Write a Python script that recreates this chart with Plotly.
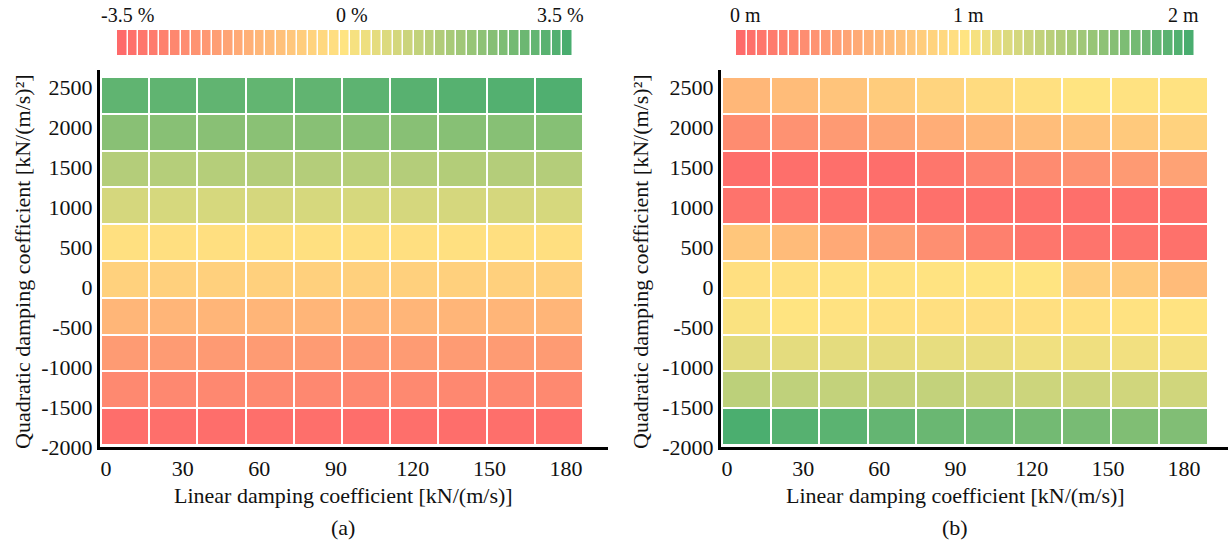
import plotly.graph_objects as go

W, H = 1228, 548

# ---------------- data ----------------
linear_damping = [0, 20, 40, 60, 80, 100, 120, 140, 160, 180]          # column centres
quad_damping = [-2000, -1500, -1000, -500, 0, 500, 1000, 1500, 2000, 2500]  # rows (bottom->top)

x_tick_vals = [0, 30, 60, 90, 120, 150, 180]
x_tick_text = ["0", "30", "60", "90", "120", "150", "180"]
y_tick_vals = [-2000, -1500, -1000, -500, 0, 500, 1000, 1500, 2000, 2500]
y_tick_text = ["-2000", "-1500", "-1000", "-500", "0", "500", "1000", "1500", "2000", "2500"]

# (a) change in % (rows bottom -> top)
z_a = [
    [-3.38, -3.36, -3.38, -3.37, -3.36, -3.38, -3.37, -3.38, -3.36, -3.35],
    [-2.62, -2.64, -2.63, -2.62, -2.64, -2.63, -2.62, -2.63, -2.64, -2.62],
    [-2.08, -2.10, -2.12, -2.10, -2.08, -2.11, -2.10, -2.09, -2.10, -2.08],
    [-1.33, -1.35, -1.36, -1.34, -1.35, -1.36, -1.34, -1.35, -1.36, -1.34],
    [-0.55, -0.57, -0.58, -0.56, -0.57, -0.58, -0.57, -0.56, -0.57, -0.58],
    [-0.12, -0.13, -0.14, -0.13, -0.12, -0.14, -0.13, -0.12, -0.13, -0.14],
    [0.80, 0.79, 0.78, 0.80, 0.79, 0.78, 0.80, 0.81, 0.80, 0.79],
    [1.44, 1.42, 1.43, 1.45, 1.44, 1.43, 1.45, 1.46, 1.44, 1.45],
    [2.26, 2.28, 2.27, 2.25, 2.28, 2.30, 2.29, 2.31, 2.30, 2.32],
    [3.05, 3.06, 3.04, 3.02, 3.03, 3.12, 3.22, 3.25, 3.30, 3.36],
]

# (b) value in m (rows bottom -> top)
z_b = [
    [1.99, 1.93, 1.90, 1.85, 1.82, 1.80, 1.77, 1.74, 1.70, 1.69],
    [1.37, 1.35, 1.33, 1.32, 1.33, 1.29, 1.28, 1.27, 1.26, 1.26],
    [1.16, 1.15, 1.15, 1.14, 1.13, 1.12, 1.08, 1.09, 1.07, 1.05],
    [1.03, 1.00, 0.98, 0.97, 0.96, 0.95, 0.96, 0.97, 0.98, 0.99],
    [0.96, 0.97, 0.98, 0.98, 0.99, 1.00, 1.00, 0.82, 0.78, 0.66],
    [0.75, 0.66, 0.52, 0.43, 0.30, 0.18, 0.10, 0.08, 0.08, 0.06],
    [0.07, 0.07, 0.06, 0.06, 0.05, 0.05, 0.05, 0.04, 0.05, 0.05],
    [0.03, 0.04, 0.04, 0.03, 0.10, 0.20, 0.27, 0.33, 0.39, 0.46],
    [0.28, 0.33, 0.39, 0.48, 0.55, 0.62, 0.68, 0.72, 0.78, 0.85],
    [0.63, 0.67, 0.74, 0.80, 0.87, 0.93, 0.97, 1.00, 0.98, 0.98],
]

# legend strips (43 segments each)
n_seg = 43
strip_a = [-3.5 + 7.0 * i / (n_seg - 1) for i in range(n_seg)]
strip_b = [0.0 + 2.0 * i / (n_seg - 1) for i in range(n_seg)]

strip_a_labels = ["-3.5 %", "0 %", "3.5 %"]
strip_b_labels = ["0 m", "1 m", "2 m"]

colorscale = [[0.0, "#FE6A6A"], [0.5, "#FFE481"], [1.0, "#49AD6F"]]

FONT = "Liberation Serif"


def px_x(p):
    return p / W


def px_y(p):
    return 1 - p / H


fig = go.Figure()

# heatmaps
fig.add_trace(go.Heatmap(x=linear_damping, y=quad_damping, z=z_a, zmin=-3.5, zmax=3.5,
                         colorscale=colorscale, showscale=False, xgap=2, ygap=2,
                         xaxis="x", yaxis="y", hoverinfo="skip"))
fig.add_trace(go.Heatmap(x=linear_damping, y=quad_damping, z=z_b, zmin=0, zmax=2,
                         colorscale=colorscale, showscale=False, xgap=2, ygap=2,
                         xaxis="x3", yaxis="y3", hoverinfo="skip"))
# dummy traces for tick axes
fig.add_trace(go.Scatter(x=[None], y=[None], xaxis="x2", yaxis="y2", showlegend=False, hoverinfo="skip"))
fig.add_trace(go.Scatter(x=[None], y=[None], xaxis="x4", yaxis="y4", showlegend=False, hoverinfo="skip"))
# legend strips
fig.add_trace(go.Heatmap(x=list(range(n_seg)), y=[0], z=[strip_a], zmin=-3.5, zmax=3.5,
                         colorscale=colorscale, showscale=False, xgap=1.5,
                         xaxis="x5", yaxis="y5", hoverinfo="skip"))
fig.add_trace(go.Heatmap(x=list(range(n_seg)), y=[0], z=[strip_b], zmin=0, zmax=2,
                         colorscale=colorscale, showscale=False, xgap=1.5,
                         xaxis="x6", yaxis="y6", hoverinfo="skip"))

ydom = [px_y(447), px_y(70)]
dom_a = [px_x(100), px_x(608)]
dom_b = [px_x(721), px_x(1228)]

hidden = dict(visible=False, showgrid=False, zeroline=False, fixedrange=True, automargin=False)

tickfont = dict(family=FONT, size=22, color="#111")

xtick_common = dict(side="bottom", tickvals=x_tick_vals, ticktext=x_tick_text,
                    showline=True, linecolor="black", linewidth=3, showgrid=False,
                    zeroline=False, ticks="", tickfont=tickfont, ticklabelstandoff=0,
                    automargin=False)
ytick_common = dict(side="left", tickvals=y_tick_vals, ticktext=y_tick_text,
                    showline=True, linecolor="black", linewidth=3, showgrid=False,
                    zeroline=False, ticks="", tickfont=tickfont, ticklabelstandoff=0,
                    automargin=False)

layout = dict(
    template="none",
    width=W, height=H, margin=dict(l=0, r=0, t=0, b=0, pad=0, autoexpand=False),
    paper_bgcolor="white", plot_bgcolor="rgba(0,0,0,0)",
    showlegend=False,
    # panel a heat axes
    xaxis=dict(domain=dom_a, range=[-10.4, 200.4], anchor="y", **hidden),
    yaxis=dict(domain=ydom, range=[-2277, 2845], anchor="x", **hidden),
    # panel a tick axes
    xaxis2=dict(overlaying="x", range=[-2.35, 196.4], anchor="y2", **xtick_common),
    yaxis2=dict(overlaying="y", range=[-2000, 2712.5], anchor="x2", **ytick_common),
    # panel b heat axes
    xaxis3=dict(domain=dom_b, range=[-10.41, 198.2], anchor="y3", **hidden),
    yaxis3=dict(domain=ydom, range=[-2277, 2845], anchor="x3", **hidden),
    # panel b tick axes
    xaxis4=dict(overlaying="x3", range=[-2.36, 197.3], anchor="y4", **xtick_common),
    yaxis4=dict(overlaying="y3", range=[-2000, 2712.5], anchor="x4", **ytick_common),
    # strips
    xaxis5=dict(domain=[px_x(117), px_x(573)], range=[-0.5, n_seg - 0.5], anchor="y5", **hidden),
    yaxis5=dict(domain=[px_y(55), px_y(30)], range=[-0.5, 0.5], anchor="x5", **hidden),
    xaxis6=dict(domain=[px_x(736), px_x(1195)], range=[-0.5, n_seg - 0.5], anchor="y6", **hidden),
    yaxis6=dict(domain=[px_y(55), px_y(30)], range=[-0.5, 0.5], anchor="x6", **hidden),
)
fig.update_layout(**layout)

ann = []


def add_text(text, x, y, size=22, angle=0):
    ann.append(dict(text=text, x=px_x(x), y=px_y(y), xref="paper", yref="paper",
                    showarrow=False, textangle=angle, xanchor="center", yanchor="middle",
                    font=dict(family=FONT, size=size, color="#111")))


for lab, xp in zip(strip_a_labels, [127, 352, 560]):
    add_text(lab, xp, 15, size=20)
for lab, xp in zip(strip_b_labels, [745, 968, 1183]):
    add_text(lab, xp, 15, size=20)

ytitle = "Quadratic damping coefficient [kN/(m/s)²]"
xtitle = "Linear damping coefficient [kN/(m/s)]"
add_text(ytitle, 22, 262, angle=-90)
add_text(ytitle, 640, 262, angle=-90)
add_text(xtitle, 343, 495)
add_text(xtitle, 955, 495)
add_text("(a)", 343, 527)
add_text("(b)", 955, 527)

fig.update_layout(annotations=ann)

fig.write_html("out.html")
